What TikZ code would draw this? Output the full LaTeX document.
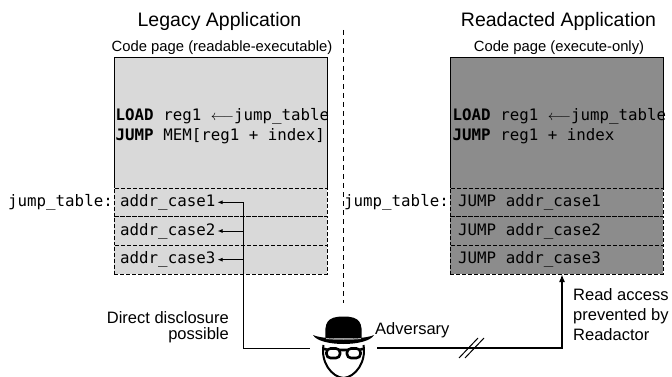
\documentclass[tikz,border=0pt]{standalone}
\usepackage{fontspec}
\setmainfont{Liberation Sans}
\setmonofont{DejaVu Sans Mono}
\usetikzlibrary{positioning,arrows.meta}
\definecolor{lgray}{RGB}{217,217,217}
\definecolor{dgray}{RGB}{140,140,140}

\begin{document}
\begin{tikzpicture}
[x=1pt,y=-1pt,
codepage/.style={minimum width=213pt,minimum height=131pt,inner sep=0pt,outer sep=0pt},
slot/.style={draw,dash pattern=on 4pt off 2pt,line width=0.7pt,minimum width=213pt,minimum height=28.67pt,inner sep=0pt,outer sep=0pt},
asm/.style={font=\fontsize{15.8}{20}\selectfont\ttfamily,inner sep=0pt},
remark/.style={font=\fontsize{16.5}{16}\selectfont,inner sep=0pt},
larrow/.style={line width=0.9pt,-{Latex[length=5pt,width=4pt]}},
rarrow/.style={line width=1.6pt,-{Latex[length=8pt,width=6pt]}}]
\useasboundingbox (0,0) rectangle (672,377);
\node[font=\fontsize{19.5}{20}\selectfont,anchor=base](ltitle) at (219.5,27){Legacy Application};
\node[font=\fontsize{14.8}{16}\selectfont,anchor=base](lpage) at (222,52){Code page (readable-executable)};
\node[font=\fontsize{19.5}{20}\selectfont,anchor=base](rtitle) at (558.5,27){Readacted Application};
\node[font=\fontsize{14.8}{16}\selectfont,anchor=base](rpage) at (559,52){Code page (execute-only)};
\node[codepage,fill=lgray](lcode) at (220.5,122.5){};
\node[slot,fill=lgray,below=0pt of lcode,label={[asm,anchor=east,xshift=-1pt]west:jump\_table:}](lrow1){};
\node[slot,fill=lgray,below=0pt of lrow1](lrow2){};
\node[slot,fill=lgray,below=0pt of lrow2](lrow3){};
\node[codepage,fill=dgray](rcode) at (556.5,122.5){};
\node[slot,fill=dgray,below=0pt of rcode,label={[asm,anchor=east,xshift=-1pt]west:jump\_table:}](rrow1){};
\node[slot,fill=dgray,below=0pt of rrow1](rrow2){};
\node[slot,fill=dgray,below=0pt of rrow2](rrow3){};
\draw[line width=0.8pt] (lcode.south west) -- (lcode.north west) -- (lcode.north east) -- (lcode.south east);
\draw[line width=0.8pt] (rcode.south west) -- (rcode.north west) -- (rcode.north east) -- (rcode.south east);
\node[asm,align=left,anchor=west](lasm) at ([xshift=1.5pt,yshift=-4pt]lcode.west){\textbf{LOAD} reg1 $\longleftarrow$jump\_table\\\textbf{JUMP} MEM[reg1 + index]};
\node[asm,align=left,anchor=west](rasm) at ([xshift=2.5pt,yshift=-4pt]rcode.west){\textbf{LOAD} reg1 $\longleftarrow$jump\_table\\\textbf{JUMP} reg1 + index};
\node[asm,inner xsep=2pt,anchor=west](lcase1) at ([xshift=4pt]lrow1.west){addr\_case1};
\node[asm,inner xsep=2pt,anchor=west](lcase2) at ([xshift=4pt]lrow2.west){addr\_case2};
\node[asm,inner xsep=2pt,anchor=west](lcase3) at ([xshift=4pt]lrow3.west){addr\_case3};
\node[asm,anchor=west](rcase1) at ([xshift=8pt]rrow1.west){JUMP addr\_case1};
\node[asm,anchor=west](rcase2) at ([xshift=8pt]rrow2.west){JUMP addr\_case2};
\node[asm,anchor=west](rcase3) at ([xshift=8pt]rrow3.west){JUMP addr\_case3};
\coordinate (divtop) at (343,30); \coordinate (divbot) at (343,303);
\draw[dash pattern=on 5pt off 4pt,line width=0.7pt] (divtop) -- (divbot);
\node[minimum width=67pt,minimum height=0pt,inner sep=0pt](adv) at (343.5,348){};
\begin{scope}[shift={(adv)}]
\fill (-18,-10) .. controls (-19,-25) and (-17,-31.5) .. (0,-31.5) .. controls (17,-31.5) and (19,-25) .. (18,-10) -- cycle;
\fill (-30.5,-13) .. controls (-20,-8) and (20,-8) .. (30.5,-13) .. controls (24,-1) and (-24,-1) .. (-30.5,-13) -- cycle;
\draw[gray!60,line width=1pt] (-17.5,-9.5) .. controls (-8,-8.5) and (8,-8.5) .. (17.5,-9.5);
\draw[line width=2.6pt,rounded corners=4pt] (-17,0.5) rectangle (-3.5,10) (3.5,0.5) rectangle (17,10);
\draw[line width=2.6pt] (-3.5,2) -- (3.5,2) (-17,1.5) -- (-21,0.5) (17,1.5) -- (21,0.5);
\draw[line width=2pt] (-20,-3) .. controls (-23,14) and (-12,29) .. (0,30) .. controls (12,29) and (23,14) .. (20,-3);
\end{scope}
\coordinate (ltap) at (243,348);
\draw[line width=0.9pt] (adv.west) -- (ltap);
\draw[larrow] (ltap) |- (lcase1.east);
\draw[larrow] (ltap) |- (lcase2.east);
\draw[larrow] (ltap) |- (lcase3.east);
\draw[rarrow] (adv.east) -| ([xshift=5.5pt]rrow3.south);
\coordinate (cut) at (470,348);
\draw[line width=1pt] ([shift={(-11,10)}]cut) -- ([shift={(8,-10)}]cut) ([shift={(-5,10)}]cut) -- ([shift={(14,-10)}]cut);
\node[remark,anchor=base west](advname) at (375,334){Adversary};
\node[remark,align=right,anchor=north east](leak) at (229,311){Direct disclosure\\possible};
\node[remark,font=\fontsize{16.5}{20}\selectfont,align=left,anchor=north west](blocked) at (573,288){Read access\\prevented by\\Readactor};
\end{tikzpicture}
\end{document}
